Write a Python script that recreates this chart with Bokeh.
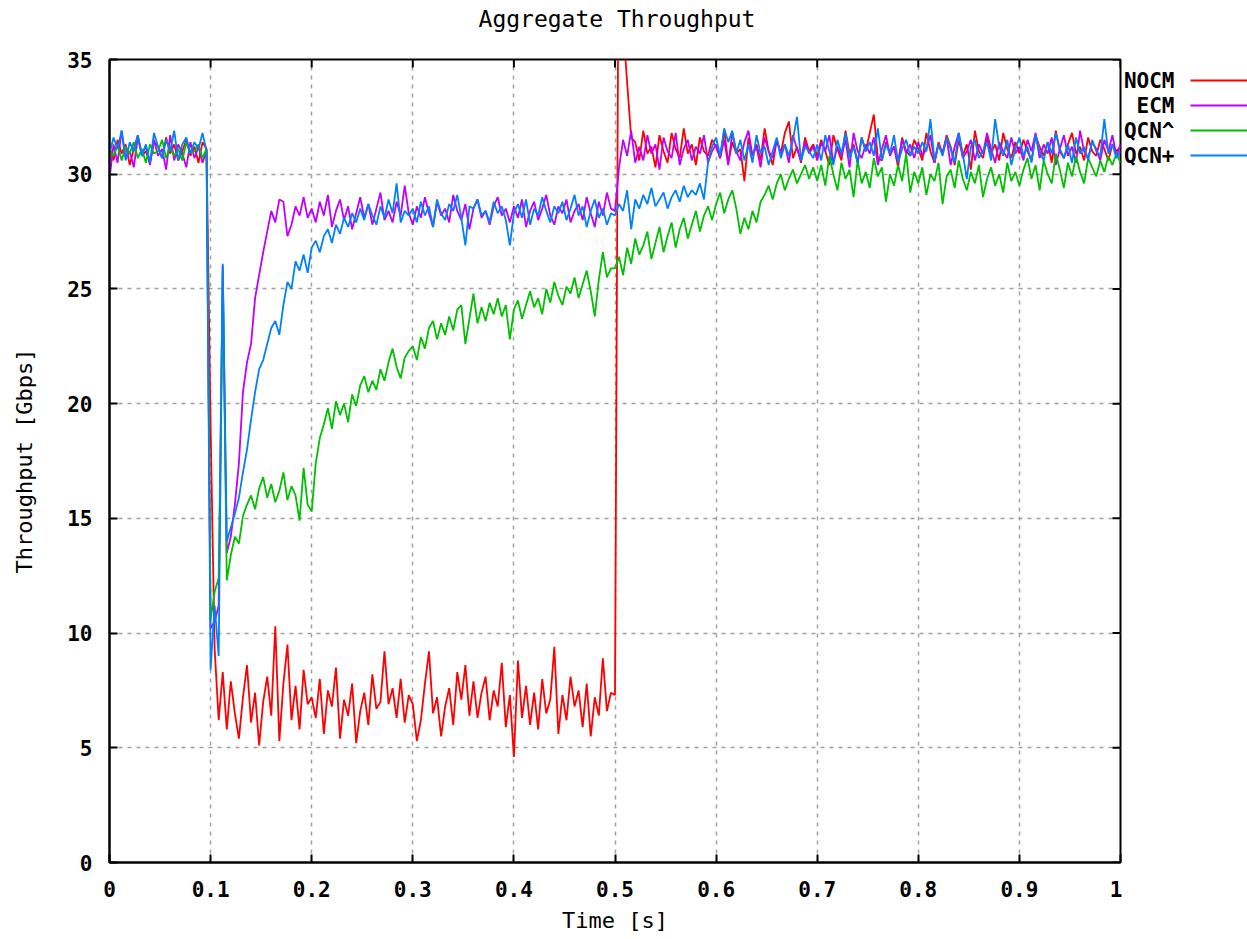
import numpy as np
from bokeh.plotting import figure
from bokeh.layouts import row, column
from bokeh.models import Range1d, FixedTicker
from bokeh.core.properties import value
from bokeh.embed import file_html
from bokeh.resources import INLINE

# sampling step of the series (seconds)
step = 0.004

nocm = [
    31.2, 30.6, 31.5, 30.9, 31.3, 30.4, 31.1, 31.7, 30.8, 31.0, 30.5, 31.4, 31.2, 30.7, 31.6, 30.9, 31.3, 30.6, 31.0, 31.5, 30.8, 31.2, 30.5, 31.4, 31.1,
    19.0, 9.3, 6.2, 8.3, 5.8, 7.9, 6.5, 5.4, 7.2, 8.6, 6.1, 7.4, 5.1, 7.0, 8.1, 6.4, 10.3, 5.3, 7.8, 9.5, 6.2, 7.7, 5.8, 8.4, 6.9,
    7.2, 6.3, 8.0, 5.6, 7.5, 6.8, 8.5, 5.4, 7.1, 6.4, 7.8, 5.2, 6.6, 7.4, 6.0, 8.2, 6.7, 7.0, 9.2, 6.9, 7.6, 6.3, 8.0, 6.1, 7.3,
    6.9, 5.3, 6.2, 7.8, 9.2, 6.5, 7.2, 5.5, 6.8, 7.6, 6.0, 8.3, 7.1, 8.6, 6.4, 7.9, 6.3, 7.4, 8.1, 6.2, 7.5, 6.8, 8.7, 5.9, 7.3,
    4.6, 8.8, 6.3, 7.7, 6.0, 7.4, 5.8, 8.0, 6.5, 7.1, 9.4, 5.6, 7.3, 6.2, 8.1, 6.8, 7.5, 5.9, 7.8, 5.5, 7.2, 6.4, 8.9, 6.6, 7.4,
    7.3, 45.0, 36.5, 34.0, 31.6, 31.4, 30.6, 31.9, 30.9, 31.2, 30.3, 31.7, 31.0, 30.5, 31.8, 31.1, 30.7, 32.0, 30.9, 31.3, 30.4, 31.6, 31.0, 30.8, 31.5,
    31.2, 30.7, 31.9, 30.5, 31.4, 30.9, 31.1, 29.7, 31.6, 30.8, 31.3, 30.6, 32.0, 31.0, 30.4, 31.5, 30.9, 31.8, 32.3, 30.7, 31.2, 30.5, 31.6, 31.0, 31.3,
    30.8, 31.5, 31.0, 30.4, 31.7, 31.1, 30.6, 31.9, 30.9, 31.3, 30.5, 31.6, 31.0, 31.8, 32.6, 30.7, 30.6, 31.4, 30.9, 31.2, 30.3, 31.6, 31.0, 30.8, 31.5,
    31.1, 30.6, 31.8, 31.0, 30.5, 31.4, 30.9, 31.7, 31.2, 30.4, 31.5, 30.8, 31.3, 30.2, 31.9, 31.0, 30.7, 31.6, 30.9, 31.3, 30.6, 31.8, 31.1, 30.7, 31.4,
    30.9, 31.5, 31.0, 30.6, 31.7, 31.2, 30.8, 31.4, 30.5, 31.9, 31.0, 30.7, 31.3, 31.8, 30.9, 31.2, 30.6, 31.6, 31.0, 30.8, 31.5, 31.1, 30.6, 31.3, 31.0,
    31.2,
]

ecm = [
    29.8, 31.3, 30.5, 31.9, 30.7, 31.0, 30.3, 31.6, 30.9, 31.2, 30.4, 31.5, 30.8, 31.1, 30.2, 31.7, 30.6, 31.3, 30.9, 30.3, 31.4, 30.7, 31.2, 30.5, 31.0,
    10.2, 10.5, 11.2, 26.0, 13.5, 14.2, 15.6, 17.4, 20.5, 21.8, 22.6, 24.6, 25.6, 26.6, 27.5, 28.4, 27.9, 28.9, 28.8, 27.3, 27.8, 28.6, 28.2, 29.0, 28.1,
    28.5, 27.9, 28.8, 28.2, 29.1, 27.7, 28.4, 28.9, 28.0, 28.6, 27.6, 28.3, 29.0, 28.1, 28.7, 27.8, 28.5, 29.2, 28.0, 28.4, 27.9, 28.8, 28.2, 29.5, 28.3,
    27.8, 28.6, 28.1, 29.0, 28.3, 27.7, 28.8, 28.2, 28.5, 27.9, 29.1, 28.4, 28.0, 28.7, 27.6, 28.5, 28.9, 28.1, 28.4, 27.8, 28.6, 29.0, 28.2, 28.5, 27.9,
    28.6, 28.1, 28.9, 27.7, 28.4, 28.8, 28.0, 28.5, 29.1, 28.2, 27.8, 28.6, 28.3, 28.9, 27.9, 28.4, 28.7, 28.0, 29.0, 28.3, 27.7, 28.8, 28.2, 29.2, 28.5,
    28.4, 30.3, 31.5, 30.8, 31.9, 30.5, 31.2, 30.6, 31.7, 30.9, 31.3, 30.2, 31.6, 31.0, 30.7, 31.8, 30.4, 31.1, 31.5, 30.6, 31.2, 30.9, 31.7, 30.5, 31.0,
    31.3, 30.7, 31.5, 30.4, 31.8, 31.0, 30.6, 31.4, 31.9, 30.8, 31.2, 30.3, 31.6, 31.0, 30.7, 31.5, 30.9, 31.3, 30.5, 31.7, 31.1, 30.6, 31.4, 30.9, 31.2,
    30.6, 31.4, 31.0, 31.7, 30.5, 31.2, 30.8, 31.5, 30.3, 31.8, 31.0, 30.7, 31.3, 30.9, 31.6, 30.4, 31.1, 31.7, 30.8, 31.2, 30.6, 31.5, 30.9, 31.3, 30.7,
    31.4, 30.8, 31.1, 31.7, 30.5, 31.3, 30.9, 31.6, 30.4, 31.2, 31.8, 30.7, 31.0, 31.5, 30.6, 31.3, 30.9, 31.8, 31.1, 30.5, 31.4, 31.0, 30.7, 31.6, 30.9,
    31.2, 30.6, 31.5, 31.0, 31.8, 30.7, 31.3, 30.9, 31.6, 30.4, 31.1, 31.7, 30.8, 31.2, 30.5, 31.9, 31.0, 30.7, 31.4, 31.1, 30.6, 31.5, 31.0, 31.7, 30.8,
    31.3,
]

qcn_hat = [
    31.0, 30.8, 31.3, 30.6, 31.2, 30.9, 31.4, 30.7, 31.1, 30.5, 31.3, 30.9, 31.0, 31.5, 30.7, 31.2, 30.8, 31.1, 30.6, 31.4, 30.9, 31.0, 31.3, 30.7, 31.1,
    10.6, 11.8, 12.4, 25.8, 12.3, 13.4, 14.2, 13.9, 15.1, 15.6, 16.0, 15.4, 16.3, 16.8, 15.9, 16.5, 15.7, 16.2, 17.0, 15.8, 16.4, 16.0, 14.9, 17.2, 15.6,
    15.3, 17.4, 18.5, 19.1, 19.8, 18.9, 20.1, 19.5, 20.0, 19.2, 20.4, 19.9, 20.8, 21.2, 20.5, 21.0, 20.6, 21.5, 21.0, 21.8, 22.4, 21.6, 21.1, 22.0, 22.3,
    22.5, 21.9, 22.9, 22.4, 23.3, 23.6, 22.8, 23.5, 23.0, 23.8, 23.2, 24.1, 24.3, 22.6, 23.7, 24.8, 23.5, 24.2, 23.6, 24.4, 23.9, 24.6, 23.8, 24.3, 22.8,
    24.1, 24.5, 23.7, 24.3, 24.9, 24.2, 24.6, 23.9, 25.0, 24.4, 25.3, 24.7, 24.3, 25.1, 24.8, 25.5, 24.6, 25.2, 25.8, 24.9, 23.8, 25.4, 26.6, 25.5, 25.9,
    25.9, 26.4, 25.6, 26.8, 26.1, 27.2, 26.5, 26.9, 27.5, 26.3, 27.0, 27.7, 26.6, 27.3, 27.9, 26.8, 27.6, 28.1, 27.2, 27.8, 28.4, 27.5, 28.2, 28.6, 28.0,
    28.7, 29.2, 28.3, 28.9, 29.3, 28.5, 27.4, 28.1, 27.6, 28.4, 27.9, 28.8, 29.1, 29.5, 28.9, 29.6, 30.0, 29.3, 29.8, 30.2, 29.6, 30.0, 30.4, 29.8, 30.3,
    29.7, 30.4, 29.5, 30.8, 30.0, 29.3, 30.5, 29.8, 30.2, 29.0, 30.6, 29.6, 30.1, 29.4, 30.7, 29.9, 30.3, 28.8, 30.0, 29.5, 30.4, 29.7, 30.9, 29.2, 30.1,
    29.6, 30.3, 29.1, 30.0, 29.7, 30.5, 28.7, 29.9, 30.2, 29.4, 30.6, 29.8, 29.3, 30.1, 29.6, 30.4, 29.0, 29.8, 30.3, 29.5, 30.0, 29.2, 30.5, 29.7, 30.1,
    29.5, 30.2, 30.7, 29.8, 30.4, 29.3, 30.6, 30.0, 29.6, 30.9, 30.2, 29.4, 30.5, 29.9, 30.8, 30.1, 29.6, 30.7, 30.3, 29.9, 30.6, 30.1, 30.8, 30.4, 30.9,
    30.5,
]

qcn_plus = [
    30.9, 31.6, 31.1, 31.9, 30.6, 31.4, 31.0, 31.7, 30.8, 31.3, 30.5, 31.8, 31.2, 30.7, 31.5, 31.0, 31.9, 30.6, 31.3, 31.6, 30.9, 31.4, 31.1, 31.8, 31.0,
    8.4, 11.2, 9.0, 26.1, 14.0, 14.6, 15.2, 15.9, 17.0, 18.0, 19.3, 20.5, 21.5, 21.9, 22.6, 23.3, 23.6, 23.0, 24.3, 25.3, 25.0, 26.2, 25.8, 26.5, 25.7,
    26.8, 27.1, 26.6, 27.3, 27.6, 27.0, 27.8, 27.4, 28.1, 27.7, 28.3, 27.9, 28.5, 28.0, 28.7, 28.2, 27.8, 28.6, 28.1, 28.9, 28.3, 29.6, 27.9, 28.4, 28.2,
    28.5, 27.9, 28.8, 28.2, 28.6, 27.7, 28.9, 28.3, 28.0, 28.7, 28.4, 29.1, 28.1, 26.9, 28.6, 28.5, 28.9, 28.2, 28.4, 27.9, 28.8, 28.3, 28.6, 28.0, 26.9,
    28.3, 28.7, 28.1, 28.9, 27.8, 28.5, 28.2, 29.0, 28.4, 27.9, 28.6, 28.3, 28.8, 28.0, 28.5, 29.1, 28.2, 28.6, 27.7, 28.4, 28.9, 28.1, 28.5, 27.8, 28.3,
    28.2, 28.7, 28.4, 29.3, 27.6, 28.9, 28.5, 29.1, 28.7, 29.4, 28.6, 28.9, 29.2, 28.5, 29.0, 29.3, 28.8, 29.5, 29.0, 29.3, 29.1, 29.6, 28.9, 30.5, 31.2,
    31.6, 30.8, 32.0, 31.4, 31.9, 30.9, 31.5, 30.6, 31.3, 30.5, 31.7, 30.9, 31.2, 30.4, 31.0, 31.6, 30.7, 31.3, 30.8, 31.5, 32.5, 30.6, 31.2, 31.0, 30.7,
    31.3, 30.6, 31.7, 31.0, 30.4, 31.5, 30.9, 31.8, 30.7, 31.2, 30.5, 31.6, 31.0, 31.4, 30.8, 32.0, 30.6, 31.3, 30.9, 31.7, 30.5, 31.1, 31.5, 30.8, 31.2,
    30.9, 31.4, 31.0, 32.4, 30.6, 31.3, 30.8, 31.6, 31.1, 30.5, 31.8, 30.9, 29.8, 31.2, 31.5, 30.7, 31.0, 31.4, 30.6, 32.4, 31.2, 30.8, 31.5, 30.4, 31.1,
    31.6, 30.8, 31.2, 30.5, 31.7, 31.0, 30.6, 31.4, 30.9, 31.8, 31.1, 30.7, 31.3, 30.5, 31.6, 30.9, 31.2, 30.6, 31.5, 31.0, 30.8, 32.4, 30.9, 31.3, 30.7,
    31.0,
]

chart_title = "Aggregate Throughput"
series_names = ["NOCM", "ECM", "QCN^", "QCN+"]
series_values = [nocm, ecm, qcn_hat, qcn_plus]
series_colors = ["#ff0000", "#c000ff", "#00c000", "#0080ff"]

x_ticks = [0, 0.1, 0.2, 0.3, 0.4, 0.5, 0.6, 0.7, 0.8, 0.9, 1]
x_tick_labels = ["0", "0.1", "0.2", "0.3", "0.4", "0.5", "0.6", "0.7", "0.8", "0.9", "1"]
y_ticks = [0, 5, 10, 15, 20, 25, 30, 35]

MONO = "DejaVu Sans Mono"

# layout (pixels, page coordinates)
W, H = 1247, 939
LEFT, TOP, FRAME_W, FRAME_H = 109, 59, 1011, 803
TITLE_H = 36                      # strip above the plot holding the title
RIGHT_PAD = 2
MAIN_W = LEFT + FRAME_W + RIGHT_PAD
KEY_W = W - MAIN_W
BODY_H = H - TITLE_H
BOTTOM = H - TOP - FRAME_H
X0, X1, Y0, Y1 = 0.0, 1.0, 0.0, 35.0
px_per_x = FRAME_W / (X1 - X0)
px_per_y = FRAME_H / (Y1 - Y0)

# ---- title strip
t_fig = figure(width=W, height=TITLE_H, x_range=Range1d(0, W), y_range=Range1d(TITLE_H, 0),
               output_backend="svg", toolbar_location=None,
               x_axis_location=None, y_axis_location=None,
               min_border_left=0, min_border_right=0, min_border_top=0, min_border_bottom=0)
t_fig.outline_line_color = None
t_fig.grid.grid_line_color = None
t_fig.background_fill_color = "white"
t_fig.border_fill_color = "white"
t_fig.text(x=[LEFT + FRAME_W / 2 + 2], y=[18], text=[chart_title], text_align="center",
           text_baseline="middle", text_font=value(MONO), text_font_style="normal",
           text_font_size="23px", text_color="black")

# ---- main plot
p = figure(width=MAIN_W, height=BODY_H, x_range=Range1d(X0, X1), y_range=Range1d(Y0, Y1),
           output_backend="svg", toolbar_location=None,
           min_border_left=LEFT, min_border_right=RIGHT_PAD, min_border_top=TOP - TITLE_H,
           min_border_bottom=BOTTOM)

p.outline_line_color = "black"
p.outline_line_width = 2
p.background_fill_color = "white"
p.border_fill_color = "white"

for ax in (p.xaxis[0], p.yaxis[0]):
    ax.axis_line_width = 2
    ax.axis_line_color = "black"
    ax.major_tick_in = 8
    ax.major_tick_out = 0
    ax.major_tick_line_width = 2
    ax.minor_tick_line_color = None
    ax.major_label_text_font = MONO
    ax.major_label_text_font_style = "bold"
    ax.major_label_text_font_size = "21px"
    ax.major_label_text_color = "black"
    ax.axis_label_text_font = MONO
    ax.axis_label_text_font_style = "normal"
    ax.axis_label_text_font_size = "22px"
    ax.axis_label_text_color = "black"

p.xaxis[0].ticker = FixedTicker(ticks=x_ticks)
p.xaxis[0].major_label_overrides = {t: l for t, l in zip(x_ticks, x_tick_labels)}
p.xaxis[0].axis_label = "Time [s]"
p.xaxis[0].major_label_standoff = 18
p.xaxis[0].axis_label_standoff = 8

p.yaxis[0].ticker = FixedTicker(ticks=y_ticks)
p.yaxis[0].axis_label = "Throughput [Gbps]"
p.yaxis[0].major_label_standoff = 17
p.yaxis[0].axis_label_standoff = 27

p.xgrid.ticker = FixedTicker(ticks=x_ticks)
p.ygrid.ticker = FixedTicker(ticks=y_ticks)
p.grid.grid_line_color = "#a0a0a0"
p.grid.grid_line_dash = "4 5"
p.grid.grid_line_width = 1.5

# mirrored ticks (top and right)
tick_len_y = 8 / px_per_y
tick_len_x = 8 / px_per_x
p.segment(x0=x_ticks, y0=[Y1] * len(x_ticks), x1=x_ticks, y1=[Y1 - tick_len_y] * len(x_ticks),
          line_color="black", line_width=2)
p.segment(x0=[X1] * len(y_ticks), y0=y_ticks, x1=[X1 - tick_len_x] * len(y_ticks), y1=y_ticks,
          line_color="black", line_width=2)

for vals, color in zip(series_values, series_colors):
    t = np.arange(len(vals)) * step
    p.line(t, vals, line_color=color, line_width=1.8)

# ---- key panel at the right: label then a line sample (same vertical scale as the plot)
k = figure(width=KEY_W, height=BODY_H, x_range=Range1d(0, KEY_W), y_range=Range1d(Y0, Y1),
           output_backend="svg", toolbar_location=None,
           x_axis_location=None, y_axis_location=None,
           min_border_left=0, min_border_right=0, min_border_top=TOP - TITLE_H,
           min_border_bottom=BOTTOM)
k.outline_line_color = None
k.grid.grid_line_color = None
k.background_fill_color = "white"
k.border_fill_color = "white"

key_text_right = 52
key_line_start = 68
key_y = [Y1 - (21 + 25 * i) / px_per_y for i in range(len(series_names))]
k.text(x=[key_text_right] * len(key_y), y=key_y, text=series_names,
       text_align="right", text_baseline="middle", text_font=value(MONO),
       text_font_style="bold", text_font_size="21px", text_color="black")
k.segment(x0=[key_line_start] * len(key_y), y0=key_y, x1=[KEY_W] * len(key_y), y1=key_y,
          line_color=series_colors, line_width=1.8)

layout = column(t_fig, row(p, k, spacing=0), spacing=0)
open("out.html", "w").write(file_html(layout, INLINE))
